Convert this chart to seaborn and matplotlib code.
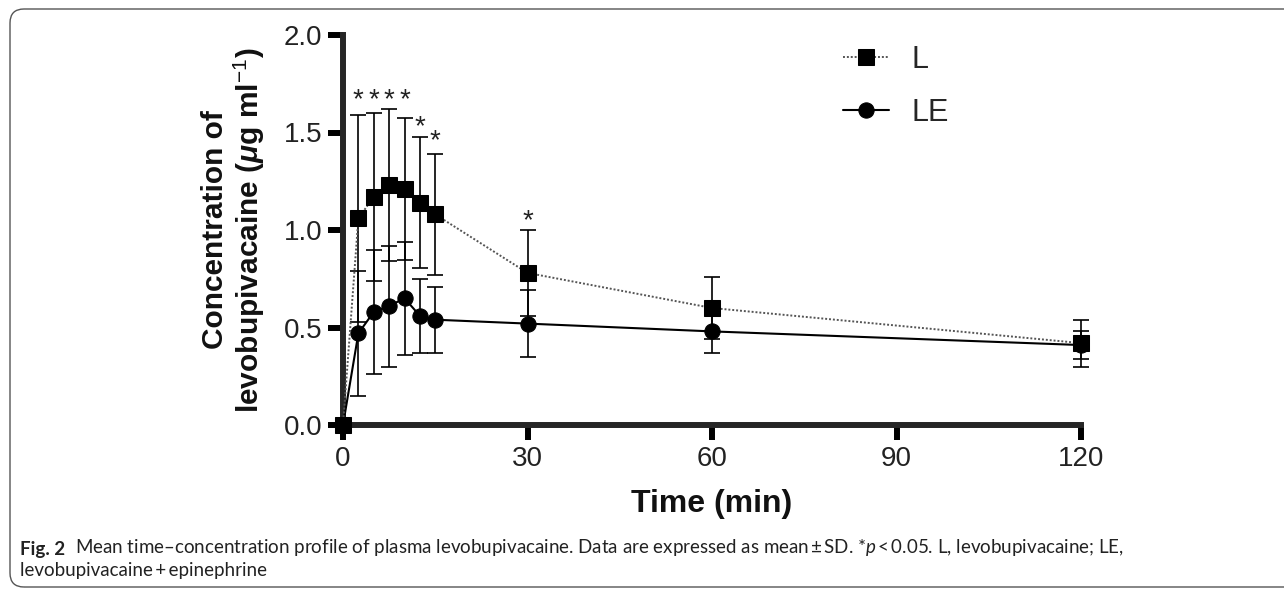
import matplotlib
matplotlib.use("Agg")
import matplotlib.pyplot as plt
import pandas as pd
import seaborn as sns
from matplotlib.patches import FancyBboxPatch
from matplotlib.transforms import IdentityTransform

# Data (mean ± SD, µg/ml)
time_min = [0, 2.5, 5, 7.5, 10, 12.5, 15, 30, 60, 120]
l_mean = [0, 1.06, 1.17, 1.23, 1.21, 1.14, 1.08, 0.78, 0.60, 0.42]
l_sd = [0, 0.53, 0.43, 0.39, 0.365, 0.335, 0.31, 0.22, 0.16, 0.12]
le_mean = [0, 0.47, 0.58, 0.61, 0.65, 0.56, 0.54, 0.52, 0.48, 0.41]
le_sd = [0, 0.32, 0.32, 0.31, 0.29, 0.19, 0.17, 0.17, 0.11, 0.07]

# significance markers (*p < 0.05)
star_time = [2.5, 5, 7.5, 10, 12.5, 15, 30]
star_y = [1.71, 1.71, 1.71, 1.71, 1.57, 1.50, 1.09]

x_ticks = [0, 30, 60, 90, 120]
y_ticks = [0.0, 0.5, 1.0, 1.5, 2.0]

CHART_FONT = ["Liberation Sans", "DejaVu Sans"]
CAPTION_FONT = ["Lato", "DejaVu Sans"]

sns.set_style("ticks")
plt.rcParams["font.family"] = CHART_FONT
plt.rcParams["mathtext.fontset"] = "custom"
plt.rcParams["mathtext.rm"] = "Liberation Sans"
plt.rcParams["mathtext.it"] = "Lato:italic"
plt.rcParams["mathtext.bfit"] = "Liberation Sans:bold:italic"

df = pd.DataFrame({
    "time": time_min * 2,
    "conc": l_mean + le_mean,
    "group": ["L"] * len(time_min) + ["LE"] * len(time_min),
})

fig = plt.figure(figsize=(12.84, 5.92), dpi=100)
ax = fig.add_axes([343 / 1284, 1 - 425 / 592, (1081 - 343) / 1284, (425 - 35) / 592])

# error bars first, markers on top
ax.errorbar(time_min, l_mean, yerr=l_sd, fmt="none", ecolor="black",
            elinewidth=1.2, capsize=6, capthick=1.2, zorder=2, clip_on=False)
ax.errorbar(time_min, le_mean, yerr=le_sd, fmt="none", ecolor="black",
            elinewidth=1.2, capsize=6, capthick=1.2, zorder=2, clip_on=False)

sns.lineplot(data=df[df.group == "L"], x="time", y="conc", ax=ax,
             color="#555555", linestyle=(0, (1, 1)), linewidth=1.4,
             marker="s", markersize=11, markerfacecolor="black",
             markeredgecolor="black", label="L", zorder=4, clip_on=False)
sns.lineplot(data=df[df.group == "LE"], x="time", y="conc", ax=ax,
             color="black", linewidth=1.5,
             marker="o", markersize=11, markerfacecolor="black",
             markeredgecolor="black", label="LE", zorder=3, clip_on=False)

for t, y in zip(star_time, star_y):
    ax.annotate("*", xy=(t, y), xytext=(0, -11), textcoords="offset points",
                ha="center", va="baseline", fontsize=20, color="#222222")

ax.set_xlim(0, 120)
ax.set_ylim(0, 2.0)
ax.set_xticks(x_ticks)
ax.set_yticks(y_ticks)
ax.set_yticklabels([f"{v:.1f}" for v in y_ticks])
sns.despine(ax=ax)
for side in ["left", "bottom"]:
    ax.spines[side].set_linewidth(4.3)
ax.tick_params(axis="both", width=4.3, length=11, labelsize=20, pad=4,
               color="black", labelcolor="#222222")

ax.set_xlabel("Time (min)", fontsize=23, fontweight="bold", color="#111111")
ax.xaxis.set_label_coords(0.5, -0.165)
ax.set_ylabel("Concentration of\nlevobupivacaine ($\\mathbfit{\\mu}$g ml$^{-1}$)",
              fontsize=21.5, fontweight="bold", labelpad=12, linespacing=1.1,
              color="#111111")

ax.legend(loc="upper left", bbox_to_anchor=(843 / 1284, 1 - 45 / 592),
          bbox_transform=fig.transFigure, frameon=False, fontsize=22,
          handlelength=1.5, handletextpad=0.75, labelspacing=0.75,
          borderpad=0, borderaxespad=0)

# caption
cap1 = fig.text(20 / 1284, 1 - 555 / 592, "Fig. 2", fontsize=13.5,
                fontweight="bold", family=CAPTION_FONT, color="#222222",
                va="baseline")
ax.annotate("Mean time\u2013concentration profile of plasma levobupivacaine. "
            "Data are expressed as mean\u2009\u00b1\u2009SD. *$p$\u2009<\u20090.05. "
            "L, levobupivacaine; LE,",
            xy=(1, 0), xycoords=cap1, xytext=(7, 0), textcoords="offset points",
            fontsize=13.5, family=CAPTION_FONT, color="#222222",
            va="bottom", ha="left", annotation_clip=False)
fig.text(20 / 1284, 1 - 576 / 592, "levobupivacaine\u2009+\u2009epinephrine",
         fontsize=13.5, family=CAPTION_FONT, color="#222222", va="baseline")

border = FancyBboxPatch((10, 5), 1400, 578, boxstyle="round,pad=0,rounding_size=14",
                        transform=IdentityTransform(), fill=False,
                        edgecolor="#555555", linewidth=1.0)
fig.patches.append(border)

fig.savefig("out.png", dpi=100)
